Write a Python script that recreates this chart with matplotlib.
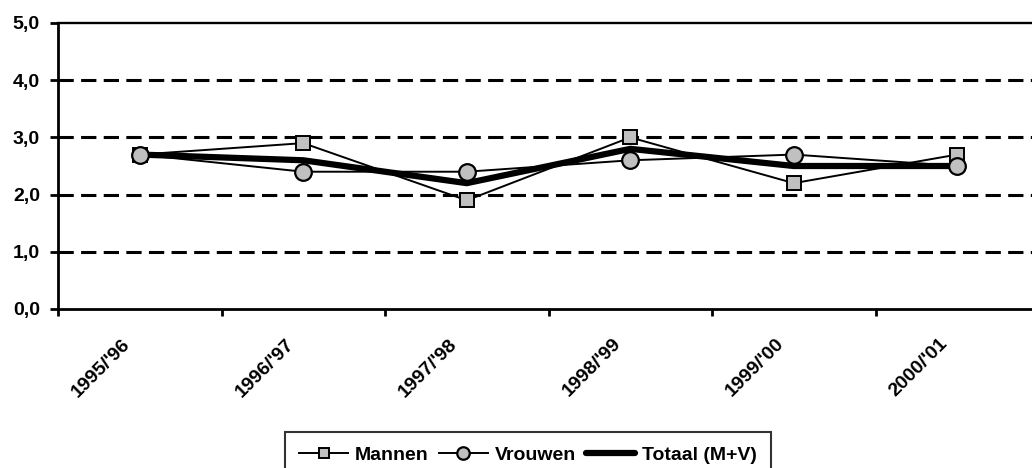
import matplotlib
matplotlib.use("Agg")
import matplotlib.pyplot as plt
import matplotlib.transforms as mtransforms
import numpy as np

plt.rcParams["font.family"] = ["Liberation Sans", "DejaVu Sans"]
plt.rcParams["font.weight"] = "bold"

years = ["1995/'96", "1996/'97", "1997/'98", "1998/'99", "1999/'00", "2000/'01"]
mannen = [2.7, 2.9, 1.9, 3.0, 2.2, 2.7]
vrouwen = [2.7, 2.4, 2.4, 2.6, 2.7, 2.5]
totaal = [2.7, 2.6, 2.2, 2.8, 2.5, 2.5]

fig = plt.figure(figsize=(10.32, 4.68), dpi=100)
ax = fig.add_axes([58 / 1032, 1 - 309 / 468, 981 / 1032, 286 / 468])

x = np.arange(len(years))
ax.plot(x, totaal, color="black", lw=4.5, label="Totaal (M+V)", zorder=3,
        solid_capstyle="round")
ax.plot(x, mannen, color="black", lw=1.4, marker="s", ms=10, mfc="#c0c0c0",
        mec="black", mew=1.4, label="Mannen", zorder=4)
ax.plot(x, vrouwen, color="black", lw=1.4, marker="o", ms=12, mfc="#c0c0c0",
        mec="black", mew=1.6, label="Vrouwen", zorder=5)

ax.set_xlim(-0.5, len(years) - 0.5)
ax.set_ylim(0, 5)
for v in [1, 2, 3, 4]:
    ax.axhline(v, color="black", lw=2.2, ls=(0, (5, 2.4)), zorder=1)
ax.axhline(5, color="black", lw=1.7, zorder=1, clip_on=False)

ax.set_yticks(np.arange(0, 5.1, 1))
ax.set_yticklabels([f"{v:.1f}".replace(".", ",") for v in np.arange(0, 5.1, 1)],
                   fontsize=14, fontweight="bold")
ax.set_xticks(np.arange(-0.5, len(years), 1))
ax.set_xticklabels([])
ax.set_xticks(x, minor=True)
ax.set_xticklabels(years, minor=True, rotation=45, ha="right", rotation_mode="anchor",
                   fontsize=14, fontweight="bold")
ax.tick_params(axis="x", which="minor", length=0, pad=14)
ax.tick_params(axis="x", which="major", direction="out", length=5, width=2)
ax.tick_params(axis="y", which="major", direction="out", length=6, width=2, pad=7)

# nudge the rotated category labels to sit like the original
shift = mtransforms.ScaledTranslation(-18 / 100, -7 / 100, fig.dpi_scale_trans)
for lab in ax.get_xticklabels(minor=True):
    lab.set_transform(lab.get_transform() + shift)

for s in ["top", "right"]:
    ax.spines[s].set_visible(False)
for s in ["left", "bottom"]:
    ax.spines[s].set_linewidth(2)

h, l = ax.get_legend_handles_labels()
order = [1, 2, 0]
leg = fig.legend([h[i] for i in order], [l[i] for i in order], loc="upper center",
                 bbox_to_anchor=(528 / 1032, 1 - 432 / 468), ncol=3, frameon=True,
                 fancybox=False, edgecolor="black", fontsize=14, handlelength=2.5,
                 columnspacing=0.55, handletextpad=0.35, borderpad=0.75,
                 borderaxespad=0, markerscale=0.75)
leg.get_frame().set_linewidth(1.5)
for t in leg.get_texts():
    t.set_fontweight("bold")

fig.savefig("out.png", dpi=100)
